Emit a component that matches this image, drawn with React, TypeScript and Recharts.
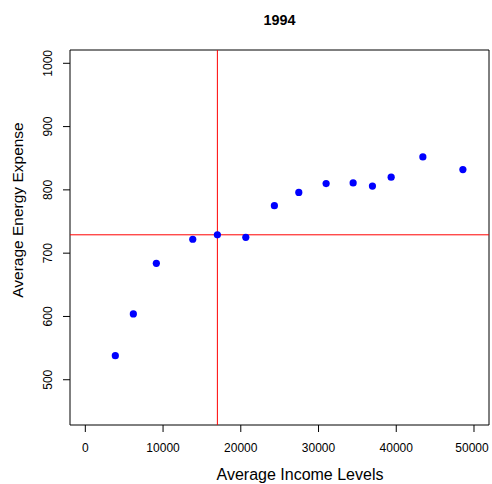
import {
  ScatterChart,
  Scatter,
  XAxis,
  YAxis,
  ReferenceLine,
  ReferenceArea,
} from "recharts";

const income = [
  3861, 6178, 9138, 13822, 16990, 20644, 24324, 27464, 30978, 34453, 36937,
  39344, 43423, 48572,
];
const expense = [
  538, 604, 684, 722, 729, 725, 775, 796, 810, 811, 806, 820, 852, 832,
];
const xTicks = [0, 10000, 20000, 30000, 40000, 50000];
const yTicks = [500, 600, 700, 800, 900, 1000];
const refIncome = 16990;
const refExpense = 729;

const xDomain = [-1970, 51930];
const yDomain = [428.5, 1021];

const points = income.map((x, i) => ({ x, y: expense[i] }));

const FONT = "'Liberation Sans', Arial, Helvetica, sans-serif";

const Dot = (props: any) => (
  <circle cx={props.cx} cy={props.cy} r={3.6} fill="#0000ff" />
);

const XTick = (props: any) => (
  <text
    x={props.x}
    y={452}
    textAnchor="middle"
    fontSize={12}
    fontFamily={FONT}
    fill="#000"
  >
    {props.payload.value}
  </text>
);

const YTick = (props: any) => (
  <text
    x={52.5}
    y={props.y}
    transform={`rotate(-90, 52.5, ${props.y})`}
    textAnchor="middle"
    fontSize={12}
    fontFamily={FONT}
    fill="#000"
  >
    {props.payload.value}
  </text>
);

export default function App() {
  return (
    <div style={{ position: "absolute", left: 0, top: 0, width: 492, height: 484, background: "#fff" }}>
      <ScatterChart
        width={492}
        height={484}
        margin={{ top: 50, right: 3, bottom: 9, left: 10 }}
      >
        <XAxis
          type="number"
          dataKey="x"
          domain={xDomain}
          ticks={xTicks}
          height={50}
          tickSize={7}
          tick={<XTick />}
          axisLine={false}
          tickLine={{ stroke: "#000" }}
          allowDataOverflow
          label={() => (
            <text
              x={300}
              y={479.5}
              textAnchor="middle"
              fontSize={16}
              fontFamily={FONT}
              fill="#000"
            >
              Average Income Levels
            </text>
          )}
        />
        <YAxis
          type="number"
          dataKey="y"
          domain={yDomain}
          ticks={yTicks}
          width={60}
          tickSize={7}
          tick={<YTick />}
          axisLine={false}
          tickLine={{ stroke: "#000" }}
          allowDataOverflow
          label={() => (
            <text
              x={22.5}
              y={210}
              transform="rotate(-90, 22.5, 210)"
              textAnchor="middle"
              fontSize={15.5}
              fontFamily={FONT}
              fill="#000"
            >
              Average Energy Expense
            </text>
          )}
        />
        <ReferenceLine y={refExpense} stroke="#ff0000" strokeWidth={1} />
        <ReferenceLine x={refIncome} stroke="#ff0000" strokeWidth={1} />
        <ReferenceArea
          x1={xDomain[0]}
          x2={xDomain[1]}
          y1={yDomain[0]}
          y2={yDomain[1]}
          fill="none"
          fillOpacity={0}
          stroke="#000"
          strokeWidth={1}
        />
        <Scatter data={points} shape={<Dot />} isAnimationActive={false} />
      </ScatterChart>
      <div
        style={{
          position: "absolute",
          left: 0,
          top: 11,
          width: 559,
          textAlign: "center",
          fontFamily: FONT,
          fontWeight: "bold",
          fontSize: 14.4,
          lineHeight: "18px",
          color: "#000",
        }}
      >
        1994
      </div>
    </div>
  );
}
